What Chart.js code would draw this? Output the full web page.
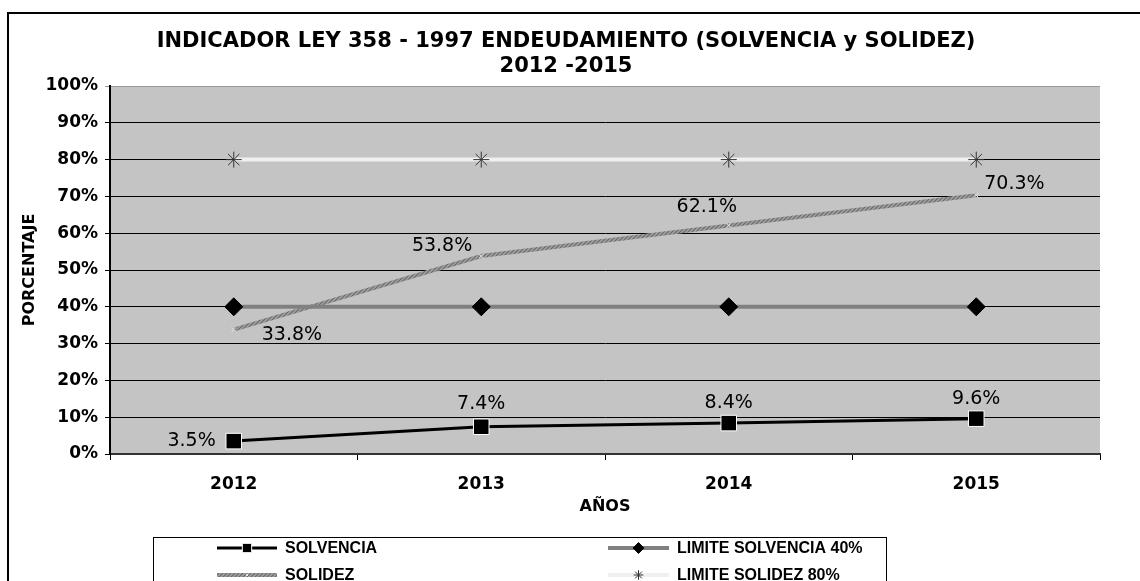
<!DOCTYPE html>
<html>
<head>
<meta charset="utf-8">
<title>Indicador Ley 358 - 1997</title>
<script src="https://cdn.jsdelivr.net/npm/chart.js@4"></script>
<style>
  html, body { margin: 0; padding: 0; background: #fff; }
  canvas { display: block; }
</style>
</head>
<body>
<canvas id="myChart" width="1140" height="581"></canvas>
<script>
// data
const years = ['2012', '2013', '2014', '2015'];
const solvencia = [3.5, 7.4, 8.4, 9.6];
const limiteSolvencia = [40, 40, 40, 40];
const solidez = [33.8, 53.8, 62.1, 70.3];
const limiteSolidez = [80, 80, 80, 80];
const yTicks = [0, 10, 20, 30, 40, 50, 60, 70, 80, 90, 100];

const titleLines = ['INDICADOR LEY 358 - 1997 ENDEUDAMIENTO (SOLVENCIA y SOLIDEZ)', '2012 -2015'];

// where each value label sits relative to its point
const labelPos = {
  0: [[-18, 0, 'right'], [0, -23, 'center'], [0, -20, 'center'], [0, -20, 'center']],
  2: [[28, 5, 'left'], [-9, -10, 'right'], [-22, -18, 'center'], [8, -11, 'left']]
};

const FONT = "'DejaVu Sans', 'Liberation Sans', Arial, sans-serif";
const LEGEND_FONT = "'Liberation Sans', Arial, sans-serif";

// hatched grey for the SOLIDEZ line
function hatch() {
  const c = document.createElement('canvas');
  c.width = 4; c.height = 4;
  const g = c.getContext('2d');
  g.fillStyle = '#a0a0a0';
  g.fillRect(0, 0, 4, 4);
  g.strokeStyle = '#6a6a6a';
  g.lineWidth = 1.2;
  g.beginPath();
  g.moveTo(0, 4); g.lineTo(4, 0);
  g.moveTo(-1, 1); g.lineTo(1, -1);
  g.moveTo(3, 5); g.lineTo(5, 3);
  g.stroke();
  return g.createPattern(c, 'repeat');
}

const ctx = document.getElementById('myChart').getContext('2d');
const hatchPattern = hatch();

const chrome = {
  id: 'chrome',
  beforeDraw(chart) {
    const c = chart.ctx, a = chart.chartArea;
    c.save();
    c.fillStyle = '#fff';
    c.fillRect(0, 0, chart.width, chart.height);
    c.fillStyle = '#c4c4c4';
    c.fillRect(a.left, a.top, a.right - a.left, a.bottom - a.top);
    c.restore();
  },
  afterDraw(chart) {
    const c = chart.ctx;
    c.save();
    // outer frame
    c.strokeStyle = '#000';
    c.lineWidth = 2;
    c.strokeRect(8, 13, 1200, 700);
    // title
    c.fillStyle = '#000';
    c.textAlign = 'center';
    c.textBaseline = 'middle';
    c.font = 'bold 21px ' + FONT;
    c.fillText(titleLines[0], 566, 42);
    c.fillText(titleLines[1], 566, 67);

    // value labels
    c.font = '19px ' + FONT;
    Object.keys(labelPos).forEach(function (di) {
      const meta = chart.getDatasetMeta(+di);
      const ds = chart.data.datasets[di];
      meta.data.forEach(function (pt, i) {
        const p = labelPos[di][i];
        c.textAlign = p[2];
        c.fillText(ds.data[i].toFixed(1) + '%', pt.x + p[0], pt.y + p[1]);
      });
    });

    // legend box
    c.lineWidth = 1;
    c.strokeRect(153.5, 537.5, 733, 80);
    c.font = 'bold 16px ' + LEGEND_FONT;
    c.textAlign = 'left';
    const cols = [[217, 277, 285], [608, 669, 677]];
    const rows = [548, 575];
    chart.data.datasets.forEach(function (ds, i) {
      const col = cols[i % 2], y = rows[Math.floor(i / 2)];
      c.strokeStyle = ds.borderColor;
      c.lineWidth = ds.borderWidth;
      c.beginPath();
      c.moveTo(col[0], y);
      c.lineTo(col[1], y);
      c.stroke();
      if (Chart.helpers && Chart.helpers.drawPoint) {
        c.fillStyle = ds.pointBackgroundColor;
        c.strokeStyle = ds.pointBorderColor;
        c.lineWidth = ds.pointBorderWidth;
        Chart.helpers.drawPoint(c, {
          pointStyle: ds.pointStyle,
          radius: ds.pointRadius * 0.6,
          borderWidth: ds.pointBorderWidth,
          rotation: 0
        }, (col[0] + col[1]) / 2, y);
      }
      c.fillStyle = '#000';
      c.fillText(ds.label, col[2], y + 1);
    });
    c.restore();
  }
};

const myChart = new Chart(ctx, {
  type: 'line',
  data: {
    labels: years,
    datasets: [{
      label: 'SOLVENCIA',
      data: solvencia,
      borderColor: '#000',
      borderWidth: 3,
      pointStyle: 'rect',
      pointRadius: 11,
      pointBackgroundColor: '#000',
      pointBorderColor: '#fff',
      pointBorderWidth: 1
    }, {
      label: 'LIMITE SOLVENCIA 40%',
      data: limiteSolvencia,
      borderColor: '#808080',
      borderWidth: 4,
      pointStyle: 'rectRot',
      pointRadius: 9,
      pointBackgroundColor: '#000',
      pointBorderColor: '#000',
      pointBorderWidth: 1
    }, {
      label: 'SOLIDEZ',
      data: solidez,
      borderColor: hatchPattern,
      borderWidth: 4,
      pointStyle: 'crossRot',
      pointRadius: 3,
      pointBackgroundColor: '#e8e8e8',
      pointBorderColor: '#e8e8e8',
      pointBorderWidth: 1
    }, {
      label: 'LIMITE SOLIDEZ 80%',
      data: limiteSolidez,
      borderColor: '#f0f0f0',
      borderWidth: 4,
      pointStyle: 'star',
      pointRadius: 8,
      pointBackgroundColor: '#333',
      pointBorderColor: '#333',
      pointBorderWidth: 1
    }]
  },
  options: {
    responsive: false,
    animation: false,
    devicePixelRatio: 1,
    layout: { padding: { top: 86, right: 40, bottom: 57, left: 0 } },
    elements: { line: { tension: 0 } },
    scales: {
      x: {
        offset: true,
        afterFit: function (s) { s.height = 70; },
        grid: { drawOnChartArea: false, offset: true, tickLength: 6, color: '#000' },
        border: { color: '#333', width: 2 },
        ticks: { color: '#000', padding: 14, font: { size: 17, weight: 'bold', family: FONT } },
        title: { display: true, text: 'AÑOS', color: '#000', padding: { bottom: 8 }, font: { size: 16, weight: 'bold', family: FONT } }
      },
      y: {
        min: 0,
        max: 100,
        afterFit: function (s) { s.width = 110; },
        afterBuildTicks: function (s) { s.ticks = yTicks.map(function (v) { return { value: v }; }); },
        grid: {
          tickLength: 5,
          color: function (c) { return c.tick && c.tick.value === 100 ? '#999' : '#000'; }
        },
        border: { color: '#000', width: 2 },
        ticks: {
          color: '#000',
          padding: 7,
          font: { size: 17, weight: 'bold', family: FONT },
          callback: function (v) { return v + '%'; }
        },
        title: { display: true, text: 'PORCENTAJE', color: '#000', padding: { top: 20 }, font: { size: 16, weight: 'bold', family: FONT } }
      }
    },
    plugins: {
      legend: { display: false },
      title: { display: false },
      tooltip: { enabled: false }
    }
  },
  plugins: [chrome]
});
</script>
</body>
</html>
